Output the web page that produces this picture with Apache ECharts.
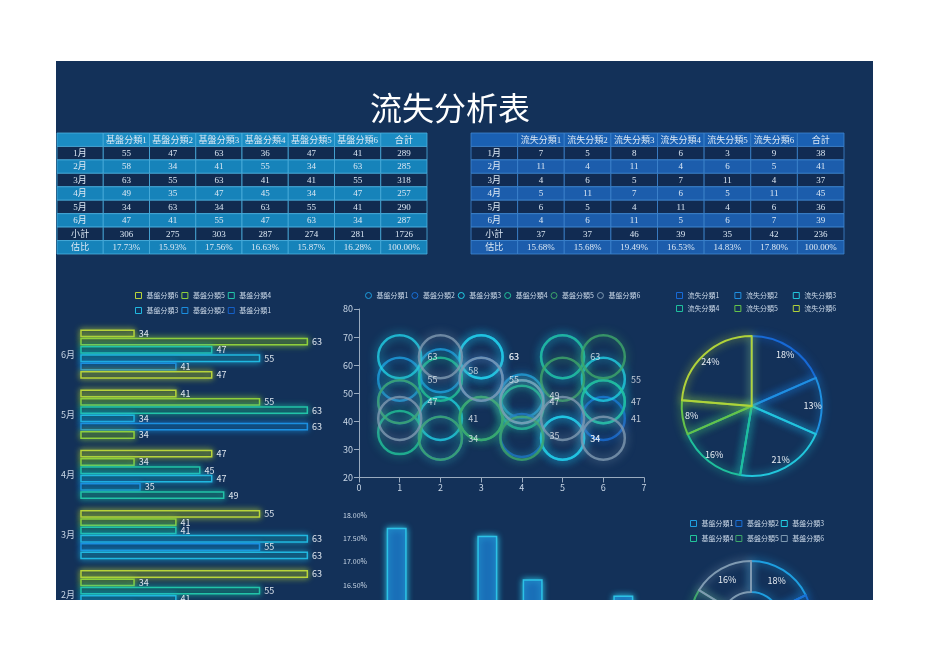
<!DOCTYPE html>
<html><head><meta charset="utf-8">
<script src="https://cdn.jsdelivr.net/npm/echarts@6/dist/echarts.min.js"></script>
<style>
html,body{margin:0;padding:0;background:#fff;width:936px;height:662px;overflow:hidden}
#w{position:absolute;left:56px;top:61px;width:817px;height:539px;background:#133159;overflow:hidden}
#c{position:absolute;left:0;top:0;width:817px;height:720px}
</style></head><body><div id="w"><div id="c"></div></div>
<script>
// ---- data ----
const months = ['1月','2月','3月','4月','5月','6月'];
const baseCats = ['基盤分類1','基盤分類2','基盤分類3','基盤分類4','基盤分類5','基盤分類6'];
const lossCats = ['流失分類1','流失分類2','流失分類3','流失分類4','流失分類5','流失分類6'];
// values per category, 1月..6月
const base1 = [55,58,63,49,34,47];
const base2 = [47,34,55,35,63,41];
const base3 = [63,41,63,47,34,55];
const base4 = [36,55,41,45,63,47];
const base5 = [47,34,41,34,55,63];
const base6 = [41,63,55,47,41,34];
const loss1 = [7,11,4,5,6,4];
const loss2 = [5,4,6,11,5,6];
const loss3 = [8,11,5,7,4,11];
const loss4 = [6,4,7,6,11,5];
const loss5 = [3,6,11,5,4,6];
const loss6 = [9,5,4,11,6,7];
const bubbleTicksX = [0,1,2,3,4,5,6,7];

const baseCols = [base1,base2,base3,base4,base5,base6];
const lossCols = [loss1,loss2,loss3,loss4,loss5,loss6];
const sum = a => a.reduce((s,v)=>s+v,0);

// ---- styles ----
const barPal = ['#1560c8','#1b8fe0','#20b8e0','#22c4a8','#8fcf3c','#b8d43a'];
const lossPal = ['#1769d6','#1f8fe0','#22c6dc','#1fbf9c','#64c24a','#b0d23a'];
const bubPal = ['#1e9fe0','#1a6fd6','#22d0e6','#22c49a','#3ea76a','#7f9ab2'];
const sans = '"Noto Sans CJK SC","Noto Sans",sans-serif';
const txt = '#c8d6e6';

function buildTable(cats, cols){
  const rows = [['', ...cats, '合計']];
  months.forEach((m,i)=>{ const v = cols.map(c=>c[i]); rows.push([m, ...v, sum(v)]); });
  const cs = cols.map(c=>sum(c)); const g = sum(cs);
  rows.push(['小計', ...cs, g]);
  rows.push(['估比', ...cs.map(v=>(v/g*100).toFixed(2)+'%'), (100).toFixed(2)+'%']);
  const cells = [];
  rows.forEach((r,ri)=>r.forEach((t,ci)=>cells.push({value:[ci,ri], text:String(t)})));
  return cells;
}
function tableRender(cells, th){
  return function(params, api){
    const ci = api.value(0), ri = api.value(1);
    const c = api.coord([ci,ri]); const s = api.size([1,1]);
    const fill = ri===0 ? th.head : (ri%2===1 ? th.dark : th.light);
    return {type:'group', children:[
      {type:'rect', shape:{x:c[0]-s[0]/2, y:c[1]-s[1]/2, width:s[0], height:s[1]},
       style:{fill:fill, stroke:th.border, lineWidth:0.8}},
      {type:'text', style:{x:c[0], y:c[1]+0.5, text:cells[params.dataIndex].text, align:'center', verticalAlign:'middle',
       fill:'#dce8f4', font:'9px "Liberation Serif","Noto Sans CJK SC",serif'}}
    ]};
  };
}
const leftCells = buildTable(baseCats, baseCols);
const rightCells = buildTable(lossCats, lossCols);

const chart = echarts.init(document.getElementById('c'), null, {renderer:'canvas'});

const colIdx = [0,1,2,3,4,5,6,7], rowIdx = [0,1,2,3,4,5,6,7,8];

const series = [
  {type:'custom', xAxisIndex:0, yAxisIndex:0, data:leftCells, silent:true,
   renderItem: tableRender(leftCells, {head:'#1b8cc3', dark:'#112b50', light:'#1683ba', border:'#4bb0de'})},
  {type:'custom', xAxisIndex:1, yAxisIndex:1, data:rightCells, silent:true,
   renderItem: tableRender(rightCells, {head:'#1a60b2', dark:'#112b52', light:'#1c5dac', border:'#3f86cf'})}
];

// left horizontal bars (分類6 first so it sits at the top of each group)
[5,4,3,2,1,0].forEach(k=>{
  const col = baseCols[k];
  series.push({
    type:'bar', name:baseCats[k], xAxisIndex:2, yAxisIndex:2,
    barCategoryGap:'18%', barGap:'6%',
    data: col.map((v,i)=> k===0 ? {value:v, itemStyle:{borderColor:barPal[i], shadowColor:barPal[i]}} : v),
    itemStyle:{color:'rgba(10,32,62,0.55)', borderColor:barPal[k], borderWidth:1.5, shadowBlur:6, shadowColor:barPal[k]},
    label:{show:true, position:'right', distance:4, color:'#dfe7ef', fontSize:9, fontFamily:sans}
  });
});

// bubbles
baseCols.forEach((col,k)=>{
  series.push({
    type:'scatter', name:baseCats[k], xAxisIndex:3, yAxisIndex:3,
    symbolSize:43,
    data: col.map((v,i)=>[i+1, v]),
    itemStyle:{color:'rgba(0,0,0,0)', borderColor:bubPal[k], borderWidth:2.5, shadowBlur:10, shadowColor:bubPal[k], opacity:0.8},
    label:{show:k<3, position:'right', distance:5, color:'#e8eef4', fontSize:9, fontFamily:sans, formatter:p=>p.value[1]}
  });
});

// bottom percentage bars
const baseTotal = sum(baseCols.map(sum));
series.push({
  type:'bar', name:'估比', xAxisIndex:4, yAxisIndex:4, barWidth:20,
  data: baseCols.map(c=>sum(c)/baseTotal*100),
  itemStyle:{color:'#1a6fb8', borderColor:'#2cc2e6', borderWidth:1.5, shadowBlur:6, shadowColor:'#2cc2e6'}
});

// pie (loss, 1月)
const pieData = lossCats.map((n,k)=>({name:n, value:lossCols[k][0],
  itemStyle:{color:'rgba(0,0,0,0)', borderColor:lossPal[k], borderWidth:2, shadowBlur:8, shadowColor:lossPal[k]}}));
series.push({type:'pie', center:[695.7,345], radius:[0,70], data:pieData, label:{show:false}, labelLine:{show:false}, silent:true});
series.push({type:'pie', center:[695.7,345], radius:[46,70], silent:true,
  data: lossCats.map((n,k)=>({name:n, value:lossCols[k][0], itemStyle:{color:'rgba(0,0,0,0)', borderWidth:0}})),
  label:{show:true, position:'inside', color:'#e8eef4', fontSize:9, fontFamily:sans, formatter:p=>Math.round(p.percent)+'%'},
  labelLine:{show:false}});

// doughnut (base totals)
series.push({type:'pie', center:[695,561], radius:[30,61], silent:true,
  data: baseCats.map((n,k)=>({name:n, value:sum(baseCols[k]),
    itemStyle:{color:'rgba(0,0,0,0)', borderColor:bubPal[k], borderWidth:2, shadowBlur:8, shadowColor:bubPal[k]}})),
  label:{show:true, position:'inside', color:'#e8eef4', fontSize:9, fontFamily:sans, formatter:p=>Math.round(p.percent)+'%'},
  labelLine:{show:false}});

function legendItems(names, pal, idxs){
  return idxs.map(i=>({name:names[i], itemStyle:{color:'rgba(0,0,0,0)', borderColor:pal[i], borderWidth:1, shadowBlur:0}}));
}
const legendBase = {orient:'horizontal', itemWidth:6, itemHeight:6, itemGap:3, selectedMode:false,
  textStyle:{color:txt, fontSize:7, fontFamily:sans}};

const option = {
  animation:false,
  graphic:[{type:'text', x:394, y:31, style:{text:'流失分析表', fill:'#ffffff', align:'center',
    font:'32px "Noto Sans CJK SC", serif'}}],
  legend:[
    Object.assign({}, legendBase, {left:74, top:226, icon:'rect', data:legendItems(baseCats, barPal, [5,4,3])}),
    Object.assign({}, legendBase, {left:74, top:241, icon:'rect', data:legendItems(baseCats, barPal, [2,1,0])}),
    Object.assign({}, legendBase, {left:304, top:226, icon:'circle', data:legendItems(baseCats, bubPal, [0,1,2,3,4,5])}),
    Object.assign({}, legendBase, {left:615, top:226, icon:'rect', itemGap:15, data:legendItems(lossCats, lossPal, [0,1,2])}),
    Object.assign({}, legendBase, {left:615, top:239, icon:'rect', itemGap:15, data:legendItems(lossCats, lossPal, [3,4,5])}),
    Object.assign({}, legendBase, {left:629, top:454, icon:'rect', itemGap:2, data:legendItems(baseCats, bubPal, [0,1,2])}),
    Object.assign({}, legendBase, {left:629, top:469, icon:'rect', itemGap:2, data:legendItems(baseCats, bubPal, [3,4,5])})
  ],
  grid:[
    {left:1, top:72, width:370, height:121},
    {left:415, top:72, width:373, height:121},
    {left:25, top:263, width:239, height:361},
    {left:303, top:248, width:285, height:168.5},
    {left:318, top:454, width:272, height:117}
  ],
  xAxis:[
    {type:'category', gridIndex:0, data:colIdx, show:false},
    {type:'category', gridIndex:1, data:colIdx, show:false},
    {type:'value', gridIndex:2, min:25, max:65, show:false, splitLine:{show:false}},
    {type:'value', gridIndex:3, min:bubbleTicksX[0], max:bubbleTicksX[bubbleTicksX.length-1], interval:1,
      splitLine:{show:false}, axisLine:{lineStyle:{color:'#9aabbf'}}, axisTick:{show:true, lineStyle:{color:'#9aabbf'}},
      axisLabel:{color:txt, fontSize:9, fontFamily:sans, margin:6}},
    {type:'category', gridIndex:4, data:baseCats, axisLine:{lineStyle:{color:'#9aabbf'}},
      axisLabel:{color:txt, fontSize:7, fontFamily:sans}}
  ],
  yAxis:[
    {type:'category', gridIndex:0, data:rowIdx, inverse:true, show:false},
    {type:'category', gridIndex:1, data:rowIdx, inverse:true, show:false},
    {type:'category', gridIndex:2, data:months, axisLine:{show:false}, axisTick:{show:false},
      axisLabel:{color:txt, fontSize:9, fontFamily:sans, margin:6}},
    {type:'value', gridIndex:3, min:20, max:80, interval:10, splitLine:{show:false},
      axisLine:{show:true, lineStyle:{color:'#9aabbf'}}, axisTick:{show:true, lineStyle:{color:'#9aabbf'}},
      axisLabel:{color:txt, fontSize:9, fontFamily:sans, margin:6}},
    {type:'value', gridIndex:4, min:15.5, max:18, interval:0.5, splitLine:{show:false},
      axisLine:{show:false}, axisTick:{show:false},
      axisLabel:{color:txt, fontSize:7, fontFamily:sans, margin:7, formatter:v=>v.toFixed(2)+'%'}}
  ],
  series: series
};
chart.setOption(option);
</script></body></html>
